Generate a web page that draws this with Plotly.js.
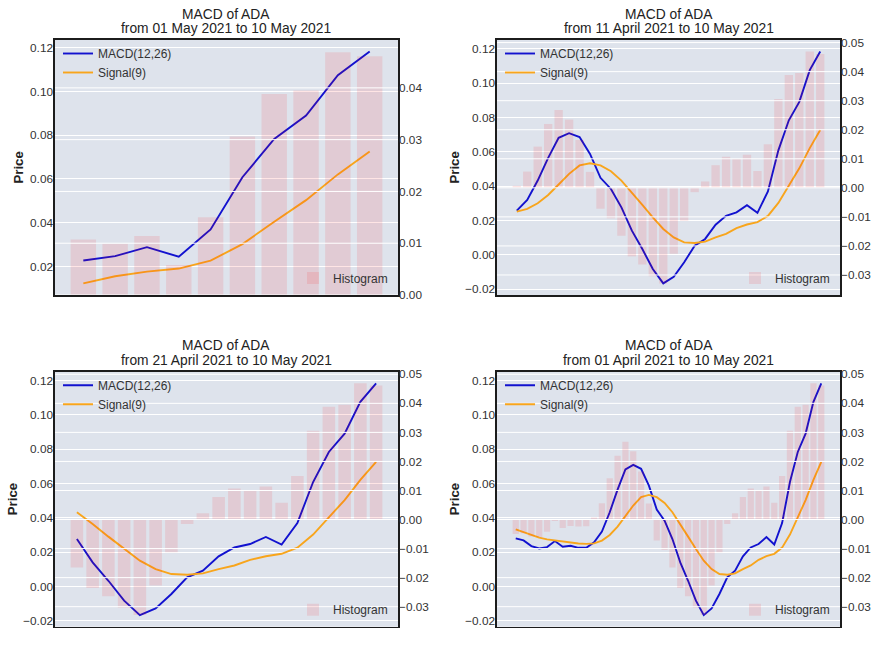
<!DOCTYPE html>
<html>
<head>
<meta charset="utf-8">
<script src="https://cdn.plot.ly/plotly-3.0.1.min.js"></script>
<style>html,body{margin:0;padding:0;background:#fff}#chart{width:884px;height:663px}</style>
</head>
<body>
<div id="chart"></div>
<script>
// ---- data (daily, 01 April 2021 .. 10 May 2021) ----
const dates = [
  "2021-04-01","2021-04-02","2021-04-03","2021-04-04","2021-04-05","2021-04-06","2021-04-07","2021-04-08","2021-04-09","2021-04-10",
  "2021-04-11","2021-04-12","2021-04-13","2021-04-14","2021-04-15","2021-04-16","2021-04-17","2021-04-18","2021-04-19","2021-04-20",
  "2021-04-21","2021-04-22","2021-04-23","2021-04-24","2021-04-25","2021-04-26","2021-04-27","2021-04-28","2021-04-29","2021-04-30",
  "2021-05-01","2021-05-02","2021-05-03","2021-05-04","2021-05-05","2021-05-06","2021-05-07","2021-05-08","2021-05-09","2021-05-10"
];
const macd = [
  0.0280, 0.0268, 0.0235, 0.0221, 0.0229, 0.0264, 0.0231, 0.0237, 0.0225, 0.0225,
  0.0257, 0.0319, 0.0432, 0.0564, 0.0681, 0.0708, 0.0685, 0.0587, 0.0448, 0.0383,
  0.0276, 0.0140, 0.0033, -0.0083, -0.0167, -0.0128, -0.0044, 0.0053, 0.0092, 0.0175,
  0.0227, 0.0247, 0.0288, 0.0244, 0.0369, 0.0608, 0.0783, 0.0890, 0.1075, 0.1183
];
const signal = [
  0.0332, 0.0317, 0.0299, 0.0284, 0.0274, 0.0268, 0.0260, 0.0256, 0.0250, 0.0248,
  0.0251, 0.0267, 0.0300, 0.0348, 0.0409, 0.0471, 0.0520, 0.0533, 0.0520, 0.0486,
  0.0432, 0.0364, 0.0290, 0.0218, 0.0150, 0.0101, 0.0072, 0.0068, 0.0076, 0.0101,
  0.0122, 0.0155, 0.0176, 0.0190, 0.0226, 0.0302, 0.0404, 0.0503, 0.0621, 0.0726
];
const hist = [
  -0.0050, -0.0047, -0.0058, -0.0060, -0.0042, -0.0005, -0.0029, -0.0022, -0.0024, -0.0023,
  0.0007, 0.0056, 0.0142, 0.0220, 0.0268, 0.0235, 0.0165, 0.0055, -0.0072, -0.0105,
  -0.0165, -0.0236, -0.0264, -0.0304, -0.0329, -0.0227, -0.0113, -0.0015, 0.0022, 0.0078,
  0.0107, 0.0099, 0.0114, 0.0058, 0.0150, 0.0306, 0.0388, 0.0395, 0.0469, 0.0461
];
// panels: TL, TR, BL, BR
const panelDays = [10, 30, 20, 40];
const panelFrom = ["01 May 2021", "11 April 2021", "21 April 2021", "01 April 2021"];
const panelTo = "10 May 2021";

// ---- layout ----
const W = 884, H = 663;
const FONT = "Liberation Sans, Arial, Helvetica, sans-serif";
const BLUE = "#1212cf", ORANGE = "#f8a51c", FRAME = "#1c1c1c";
const doms = [
  {x0: 55, x1: 398, y0: 40, y1: 295},
  {x0: 497, x1: 840, y0: 40, y1: 295},
  {x0: 55, x1: 398, y0: 371.7, y1: 626.7},
  {x0: 497, x1: 840, y0: 371.7, y1: 626.7}
];
const ref = i => (i === 1 ? "" : String(i));
const px = v => v / W, py = v => 1 - v / H;

// ticks with a true minus sign, as matplotlib prints them
function ticks(lo, hi, step) {
  const vals = [], text = [];
  for (let i = Math.ceil(lo / step - 1e-9); i <= Math.floor(hi / step + 1e-9); i++) {
    const v = Math.round(i * step * 1e6) / 1e6;
    vals.push(v);
    text.push((v < 0 ? "\u2212" : "") + Math.abs(v).toFixed(2));
  }
  return {vals, text};
}

const traces = [];
const layout = {
  width: W, height: H,
  margin: {l: 0, r: 0, t: 0, b: 0},
  paper_bgcolor: "#ffffff",
  plot_bgcolor: "#dee3ec",
  bargap: 0.2,
  showlegend: true,
  annotations: [],
  shapes: []
};

panelDays.forEach((n, k) => {
  const s = dates.length - n;
  const xs = dates.slice(s), m = macd.slice(s), sg = signal.slice(s), h = hist.slice(s);
  const d = doms[k];
  const xi = k + 1, yl = 2 * k + 1, yr = 2 * k + 2;
  const xid = "x" + ref(xi), ylid = "y" + ref(yl), yrid = "y" + ref(yr);
  const lg = "legend" + ref(2 * k + 1), lgH = "legend" + ref(2 * k + 2);

  traces.push({type: "scatter", mode: "lines", x: xs, y: m, name: "MACD(12,26)",
    xaxis: xid, yaxis: ylid, line: {color: BLUE, width: 1.9}, legend: lg, hoverinfo: "skip"});
  traces.push({type: "scatter", mode: "lines", x: xs, y: sg, name: "Signal(9)",
    xaxis: xid, yaxis: ylid, line: {color: ORANGE, width: 1.9}, legend: lg, hoverinfo: "skip"});
  traces.push({type: "bar", x: xs, y: h, name: "Histogram",
    xaxis: xid, yaxis: yrid, marker: {color: "rgba(255,0,0,0.1)", line: {width: 0}}, legend: lgH, hoverinfo: "skip"});

  // matplotlib-like autoscale
  const all = m.concat(sg);
  const lo = Math.min(...all), hi = Math.max(...all), R = hi - lo;
  const ylo = lo - 0.05 * R, yhi = hi + 0.05 * R;
  const hmin = Math.min(...h), hmax = Math.max(...h), HR = Math.max(hmax, 0) - Math.min(hmin, 0);
  const hlo = hmin >= 0 ? 0 : hmin - 0.05 * HR;
  const hhi = hmax <= 0 ? 0 : hmax + 0.05 * HR;
  const xpad = 0.05 * (n - 0.2);
  const tl = ticks(ylo, yhi, 0.02), tr = ticks(hlo, hhi, 0.01);

  const tickfont = {family: FONT, size: 11.8, color: "#333333"};
  layout["xaxis" + ref(xi)] = {
    domain: [px(d.x0), px(d.x1)], anchor: ylid, type: "category",
    range: [-0.4 - xpad, n - 1 + 0.4 + xpad],
    showticklabels: false, showgrid: false, zeroline: false, ticks: "",
    showline: true, mirror: true, linecolor: FRAME, linewidth: 1.6, fixedrange: true
  };
  layout["yaxis" + ref(yl)] = {
    domain: [py(d.y1), py(d.y0)], anchor: xid,
    range: [ylo, yhi],
    tickmode: "array", tickvals: tl.vals, ticktext: tl.text, tickfont: tickfont, ticks: "",
    ticklabelstandoff: -2,
    showgrid: true, gridcolor: "#ffffff", gridwidth: 1, zeroline: false,
    showline: true, mirror: true, linecolor: FRAME, linewidth: 1.6, fixedrange: true
  };
  layout["yaxis" + ref(yr)] = {
    overlaying: ylid, side: "right", anchor: xid,
    range: [hlo, hhi],
    tickmode: "array", tickvals: tr.vals, ticktext: tr.text, tickfont: tickfont, ticks: "",
    showgrid: false, zeroline: false, showline: false, fixedrange: true
  };
  // twin-axis grid lines are drawn above the primary axes' lines
  tr.vals.forEach(v => {
    layout.shapes.push({type: "line", xref: xid + " domain", yref: yrid, x0: 0, x1: 1,
      y0: v, y1: v, layer: "above", line: {color: "#ffffff", width: 1}});
  });

  // y-axis title "Price"
  const hasNeg = ylo < 0;
  layout.annotations.push({xref: "paper", yref: "paper", x: px(d.x0 - (hasNeg ? 43 : 37)),
    y: py((d.y0 + d.y1) / 2), xanchor: "center", yanchor: "middle", textangle: -90,
    text: "<b>Price</b>", showarrow: false, font: {family: FONT, size: 13.2, color: "#222222"}});

  layout[lg] = {
    x: px(d.x0 + 3), xanchor: "left", y: py(d.y0 - 1), yanchor: "top",
    bgcolor: "rgba(0,0,0,0)", borderwidth: 0, tracegroupgap: 0, itemwidth: 30,
    font: {family: FONT, size: 12, color: "#333333"}
  };
  layout[lgH] = {
    x: px(d.x1 - 5), xanchor: "right", y: py(d.y1 - 17), yanchor: "middle",
    bgcolor: "rgba(0,0,0,0)", borderwidth: 0, itemwidth: 30,
    font: {family: FONT, size: 12, color: "#333333"}
  };

  const cx = px((d.x0 + d.x1) / 2);
  const tfont = {family: FONT, size: 13.8, color: "#222222"};
  layout.annotations.push({xref: "paper", yref: "paper", x: cx, y: py(d.y0 - 26), xanchor: "center", yanchor: "middle",
    text: "MACD of ADA", showarrow: false, font: tfont});
  layout.annotations.push({xref: "paper", yref: "paper", x: cx, y: py(d.y0 - 11), xanchor: "center", yanchor: "middle",
    text: "from " + panelFrom[k] + " to " + panelTo, showarrow: false, font: tfont});
});

Plotly.newPlot("chart", traces, layout, {displayModeBar: false, staticPlot: true});
</script>
</body>
</html>
